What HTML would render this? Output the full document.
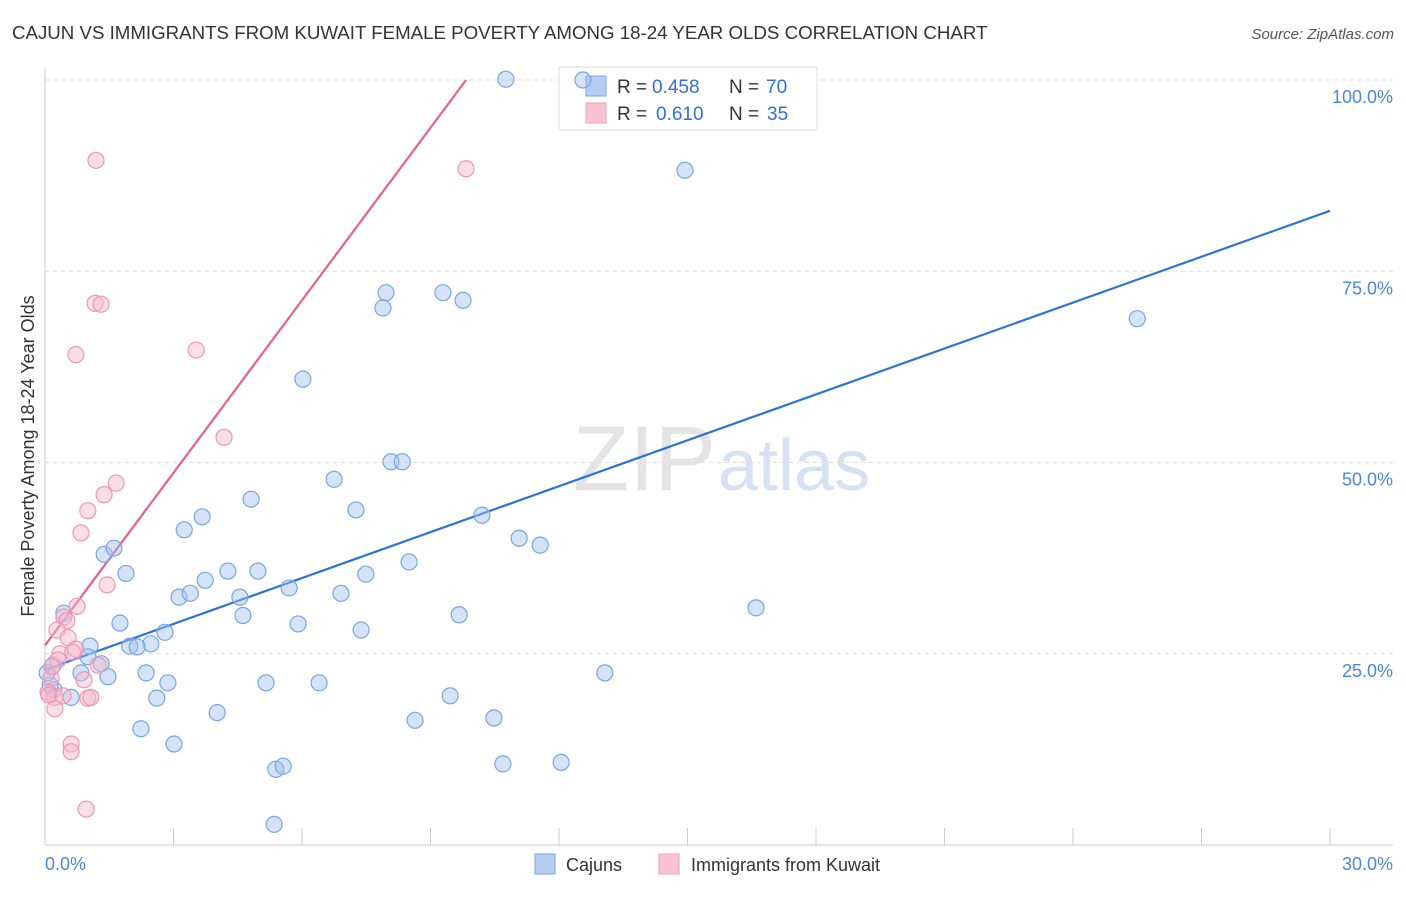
<!DOCTYPE html>
<html><head><meta charset="utf-8"><style>
body{margin:0;background:#fff;font-family:"Liberation Sans",sans-serif}
svg text{font-family:"Liberation Sans",sans-serif}
</style></head><body>
<svg id="chart" width="1406" height="892" xmlns="http://www.w3.org/2000/svg">
<text x="12" y="39" font-size="18.7" fill="#333">CAJUN VS IMMIGRANTS FROM KUWAIT FEMALE POVERTY AMONG 18-24 YEAR OLDS CORRELATION CHART</text>
<text x="1394" y="39" font-size="15" fill="#555" text-anchor="end" font-style="italic">Source: ZipAtlas.com</text>
<text x="716" y="490" font-size="92" fill="#e4e4e4" text-anchor="end" font-family="Liberation Serif">ZIP</text>
<text x="718" y="490" font-size="72" fill="#d6e2f4">atlas</text>
<g id="grid"></g><g id="axes"></g><g id="lines"></g>
<g>
<rect x="559" y="67" width="258" height="63" fill="#fff" stroke="#ddd"/>
<rect x="586" y="76" width="20" height="20" fill="#b5cdf3" stroke="#7aa5e3"/>
<rect x="586" y="103" width="20" height="20" fill="#f8c4d4" stroke="#e9a0b8"/>
<text x="617" y="93" font-size="19" fill="#333">R =</text>
<text x="652" y="93" font-size="19" fill="#2f6fd6">0.458</text>
<text x="729" y="93" font-size="19" fill="#333">N =</text>
<text x="766" y="93" font-size="19" fill="#2f6fd6">70</text>
<text x="617" y="120" font-size="19" fill="#333">R =</text>
<text x="656" y="120" font-size="19" fill="#2f6fd6">0.610</text>
<text x="729" y="120" font-size="19" fill="#333">N =</text>
<text x="767" y="120" font-size="19" fill="#2f6fd6">35</text>
</g>
<g id="pts"></g>
<text transform="translate(34,456) rotate(-90)" font-size="18" fill="#333" text-anchor="middle">Female Poverty Among 18-24 Year Olds</text>
<text x="45" y="870" font-size="18" fill="#4a86e0">0.0%</text>
<text x="1393" y="870" font-size="18" fill="#4a86e0" text-anchor="end">30.0%</text>
<g>
<rect x="535" y="854" width="20" height="20" fill="#b5cdf3" stroke="#7aa5e3"/>
<text x="566" y="871" font-size="18" fill="#333">Cajuns</text>
<rect x="659" y="854" width="20" height="20" fill="#f8c4d4" stroke="#e9a0b8"/>
<text x="691" y="871" font-size="18" fill="#333">Immigrants from Kuwait</text>
</g>
</svg>
<script>
const yTicks=[25,50,75,100];
const yTickLabels=["25.0%","50.0%","75.0%","100.0%"];
const xTicks=[0,3,6,9,12,15,18,21,24,27,30];
const cajunX=[10.76,12.56,14.94,25.50,7.96,7.89,9.29,9.76,6.02,8.08,8.34,6.75,4.81,7.26,10.20,11.07,11.56,3.25,3.67,1.38,1.61,1.89,4.27,4.97,3.74,3.13,3.39,4.55,5.70,6.91,7.49,8.50,9.67,4.62,5.91,7.38,16.60,1.75,2.80,2.47,1.98,2.15,1.05,0.44,1.00,1.31,0.84,1.47,2.36,2.87,2.61,0.61,0.19,0.12,0.21,5.16,6.40,4.02,9.46,13.07,8.64,10.48,2.24,3.01,5.39,5.56,10.69,12.05,5.35,0.05];
const cajunY=[100.1,100,88.2,68.8,72.2,70.2,72.2,71.2,60.9,50.1,50.1,47.8,45.2,43.8,43.1,40.1,39.2,41.2,42.9,38.0,38.8,35.5,35.8,35.8,34.6,32.4,32.9,32.4,33.6,32.9,35.4,37.0,30.1,30.0,28.9,28.1,31.0,29.0,27.8,26.3,26.0,25.9,26.0,30.3,24.6,23.7,22.5,22.0,22.5,21.2,19.2,19.3,23.5,20.9,20.3,21.2,21.2,17.3,19.5,22.5,16.3,16.6,15.2,13.2,9.9,10.3,10.6,10.8,2.7,22.5];
const kuwaitX=[1.19,9.83,1.17,1.31,0.72,3.53,4.18,1.66,1.38,1.00,0.84,1.45,0.75,0.44,0.51,0.28,0.54,0.72,0.35,0.65,0.91,0.14,0.07,0.23,0.09,0.42,1.00,1.07,0.23,0.61,0.61,0.96,1.24,0.30,0.16];
const kuwaitY=[89.5,88.4,70.8,70.7,64.1,64.7,53.3,47.3,45.8,43.7,40.8,34.0,31.2,29.8,29.3,28.1,27.1,25.6,25.0,25.2,21.6,21.8,20.0,19.3,19.6,19.5,19.2,19.3,17.8,13.2,12.2,4.7,23.5,24.2,23.3];
const cajunTrend=[22.9,82.9];
const kuwaitTrend=[26.1,100];
const kuwaitEndX=9.83;
const NS="http://www.w3.org/2000/svg";
const sx=v=>45+v/30*1285, sy=v=>845-v*7.65;
function mk(t,a,p){const e=document.createElementNS(NS,t);for(const k in a)e.setAttribute(k,a[k]);document.getElementById(p).appendChild(e);return e;}
yTicks.forEach((t,i)=>{
 const l=mk('line',{x1:45,x2:1393,y1:sy(t),y2:sy(t),stroke:'#ddd','stroke-dasharray':'4,4'},'grid');
 
 
 const tx=mk('text',{x:1393,y:sy(t)+23,'font-size':18,fill:'#4a86e0','text-anchor':'end'},'grid');tx.textContent=yTickLabels[i];
 
 
});
const ax=mk('line',{x1:45,x2:45,y1:68,y2:845,stroke:'#ccc'},'axes');


const bx=mk('line',{x1:45,x2:1393,y1:845,y2:845,stroke:'#ccc'},'axes');


xTicks.forEach(t=>{const l=mk('line',{x1:sx(t),x2:sx(t),y1:828,y2:845,stroke:'#ccc'},'axes');
 
 });
function pts(X,Y,f,s,n){X.forEach((x,i)=>{const c=mk('circle',{cx:sx(x),cy:sy(Y[i]),r:8,fill:f,stroke:s,'stroke-width':1.2},'pts');
 
 });}
pts(cajunX,cajunY,'rgba(160,192,240,0.45)','#78a6e4','cajun-point');
pts(kuwaitX,kuwaitY,'rgba(246,182,202,0.45)','#eb98b6','kuwait-point');
const bl=mk('line',{x1:sx(0),y1:sy(cajunTrend[0]),x2:sx(30),y2:sy(cajunTrend[1]),stroke:'#2f72d6','stroke-width':2.2},'lines');


const pl=mk('line',{x1:sx(0),y1:sy(kuwaitTrend[0]),x2:sx(kuwaitEndX),y2:sy(kuwaitTrend[1]),stroke:'#e8608c','stroke-width':2.2},'lines');


</script>
</body></html>
